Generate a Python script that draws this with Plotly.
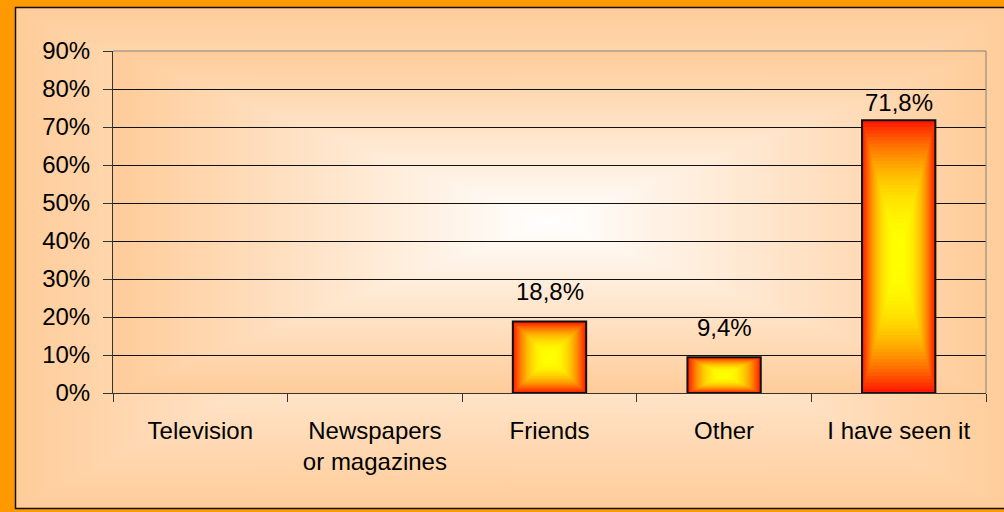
import plotly.graph_objects as go

# chart values
categories = ["Television", "Newspapers<br>or magazines", "Friends", "Other", "I have seen it"]
shares = [0.0, 0.0, 18.8, 9.4, 71.8]
y_ticks = [0, 10, 20, 30, 40, 50, 60, 70, 80, 90]
y_tick_labels = [f"{t}%" for t in y_ticks]

# geometry of the picture (pixels)
W, H = 1004, 512
PLOT_L, PLOT_T, PLOT_R, PLOT_B = 113, 51, 986, 393
FRAME_L, FRAME_T, FRAME_R, FRAME_B = 15.5, 7.5, 1012, 508.5
BAR_W = 0.42
FONT = "Liberation Sans, Arial, sans-serif"

EDGE = "#FFCC99"
CENTRE = "#FFFFFF"

fig = go.Figure()


def box_gradient(x0, y0, x1, y1, edge, centre):
    # y given from the top of the picture, background axis runs bottom-up
    top, bot = H - y0, H - y1
    cx, cy = (x0 + x1) / 2, (top + bot) / 2
    scale = [[0, edge], [0.5, centre], [1, edge]]
    fig.add_trace(go.Scatter(
        x=[x0, x1, x1, x0, x0], y=[bot, bot, top, top, bot],
        fill="toself", mode="none", hoverinfo="skip",
        fillgradient=dict(type="horizontal", start=x0, stop=x1, colorscale=scale),
        xaxis="x", yaxis="y"))
    fig.add_trace(go.Scatter(
        x=[x0, x1, cx, x1, x0, cx, x0], y=[top, top, cy, bot, bot, cy, top],
        fill="toself", mode="none", hoverinfo="skip",
        fillgradient=dict(type="vertical", start=bot, stop=top, colorscale=scale),
        xaxis="x", yaxis="y"))


box_gradient(FRAME_L, FRAME_T, FRAME_R, FRAME_B, EDGE, CENTRE)
box_gradient(PLOT_L, PLOT_T, PLOT_R, PLOT_B, EDGE, CENTRE)

# bars: nested rectangles give the red -> yellow "from centre" fill
STEPS = 40
for k in range(STEPS):
    s = 1 - k / STEPS
    g = round(24 + (255 - 24) * (1 - s ** 2.5))
    fig.add_trace(go.Bar(
        x=categories,
        y=[v * s for v in shares],
        base=[v * (1 - s) / 2 for v in shares],
        width=[BAR_W * s] * len(shares),
        marker=dict(color=f"rgb(255,{g},0)", line=dict(width=0)),
        hoverinfo="skip", xaxis="x2", yaxis="y2"))

fig.add_trace(go.Bar(
    x=categories,
    y=[v if v else None for v in shares],
    width=[BAR_W] * len(shares),
    marker=dict(color="rgba(0,0,0,0)", line=dict(color="#111111", width=2)),
    hovertemplate="%{x}: %{y}%<extra></extra>",
    xaxis="x2", yaxis="y2"))

# value labels
LABEL_LIFT = {"Friends": 15, "Other": 14, "I have seen it": 2}
for i, (c, v) in enumerate(zip(categories, shares)):
    if v:
        fig.add_annotation(
            x=i, y=v, xref="x2", yref="y2", yanchor="bottom",
            text=f"{v:.1f}%".replace(".", ","), showarrow=False,
            yshift=LABEL_LIFT.get(c, 10),
            font=dict(family=FONT, size=24, color="black"))

# plot area border (top and right) and the chart frame
fig.add_shape(type="line", xref="x2 domain", yref="y2 domain", x0=0, x1=1, y0=1, y1=1,
              line=dict(color="#808080", width=1))
fig.add_shape(type="line", xref="x2 domain", yref="y2 domain", x0=1, x1=1, y0=0, y1=1,
              line=dict(color="#808080", width=1))
fig.add_shape(type="rect", xref="x", yref="y",
              x0=FRAME_L, x1=FRAME_R, y0=H - FRAME_B, y1=H - FRAME_T,
              line=dict(color="#111111", width=1.5), layer="above")

fig.update_layout(
    width=W, height=H,
    margin=dict(l=0, r=0, t=0, b=0, pad=0),
    paper_bgcolor="#FF9900",
    plot_bgcolor="rgba(0,0,0,0)",
    showlegend=False,
    barmode="overlay",
    font=dict(family=FONT, size=24, color="black"),
    xaxis=dict(domain=[0, 1], range=[0, W], visible=False, automargin=False),
    yaxis=dict(domain=[0, 1], range=[0, H], visible=False, automargin=False),
    xaxis2=dict(
        domain=[PLOT_L / W, PLOT_R / W], anchor="y2", type="category",
        tickson="boundaries", ticks="outside", ticklen=8, tickcolor="#333333",
        showline=True, linecolor="#333333", linewidth=1, showgrid=False,
        automargin=False,
        ticklabelstandoff=16, tickfont=dict(size=24, color="black")),
    yaxis2=dict(
        domain=[(H - PLOT_B) / H, (H - PLOT_T) / H], anchor="x2",
        range=[0, 90], tickvals=y_ticks, ticktext=y_tick_labels,
        ticks="outside", ticklen=9, tickcolor="#333333",
        showline=True, linecolor="#333333", linewidth=1, automargin=False,
        showgrid=True, gridcolor="#111111", gridwidth=1, zeroline=False,
        ticklabelstandoff=8, tickfont=dict(size=24, color="black")),
)

fig.write_html(
    "out.html",
    config={"displayModeBar": False},
    post_script="document.body.style.margin='0px';document.body.style.overflow='hidden';",
)
